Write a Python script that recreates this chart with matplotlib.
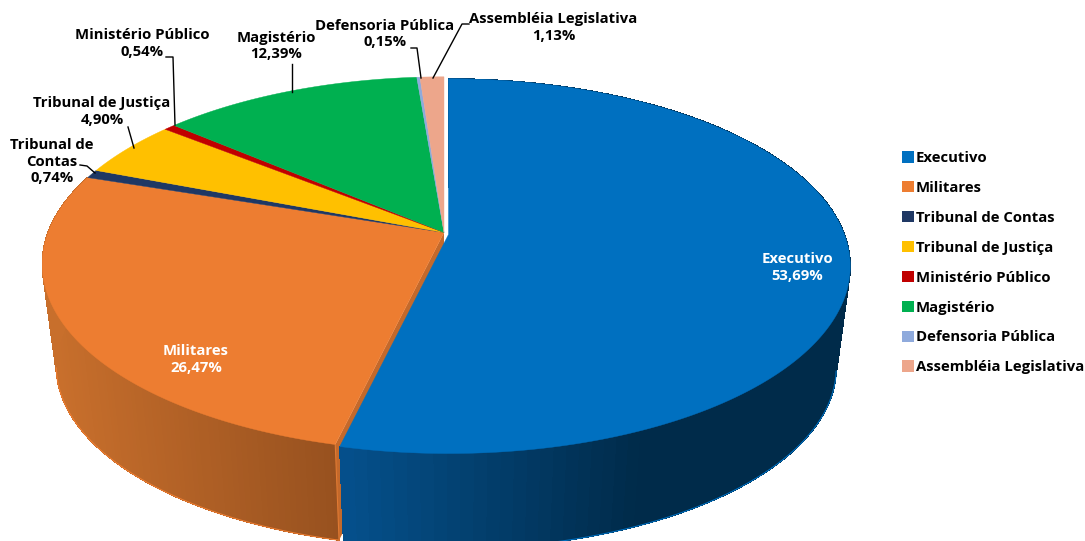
import numpy as np
import matplotlib
matplotlib.use("Agg")
import matplotlib.pyplot as plt
from matplotlib.collections import PolyCollection
from matplotlib.colors import to_rgb
from matplotlib.patches import Patch

categories = ["Executivo", "Militares", "Tribunal de Contas", "Tribunal de Justiça",
              "Ministério Público", "Magistério", "Defensoria Pública", "Assembléia Legislativa"]
values = [53.69, 26.47, 0.74, 4.90, 0.54, 12.39, 0.15, 1.13]
colors = ["#0070C0", "#ED7D31", "#1F3864", "#FFC000", "#C00000", "#00B050", "#8FAADC", "#EDA68B"]
label_names = ["Executivo", "Militares", "Tribunal de\nContas", "Tribunal de Justiça",
               "Ministério Público", "Magistério", "Defensoria Pública", "Assembléia Legislativa"]
label_pos = [(797, 267.5), (196, 359.5), (52, 161.5), (102, 111.5),
             (142, 43.5), (276, 46), (385, 34), (553.5, 27.5)]
leaders = [None, None,
           [(80, 165), (87, 166), (95, 173)],
           [(128, 127), (134, 148)],
           [(166, 57), (173, 57), (175, 125)],
           [(292, 64), (292, 92)],
           [(411, 48), (417, 48), (421, 78)],
           [(469, 24), (462, 24), (433, 78)]]

FONT = "Open Sans"
FS = 10.7
RX, RY, P = 396.0, 182.0, 0.169
K, DROP = 0.965, 102.0
ELL_OFF = 31.0

fig = plt.figure(figsize=(10.85, 5.41), dpi=100)
ax = fig.add_axes([0, 0, 1, 1])
ax.set_xlim(0, 1085)
ax.set_ylim(541, 0)
ax.axis("off")


def rim(theta, cx, cy):
    u, v = np.sin(theta), -np.cos(theta)
    s = 1 / (1 - P * v)
    return cx + RX * u * s, cy + RY * v * s


def lower(x, y, cx, cy):
    ey = cy + ELL_OFF
    return cx + (x - cx) * K, ey + DROP + (y - ey) * K


def mix(a, b, t):
    a, b = np.array(to_rgb(a)), np.array(to_rgb(b))
    return tuple(a + (b - a) * t)


edges = np.concatenate([[0], np.cumsum(values)]) / np.sum(values) * 2 * np.pi
centers = [(448.5, 234.5) if i == 0 else (444.0, 232.5) for i in range(len(values))]
side_style = {
    0: ("#05508C", "#002B4A", 342, 640),
    1: ("#C86F2C", "#97511F", 50, 335),
}

for i in (1, 0):
    cx, cy = centers[i]
    th = np.linspace(edges[i], edges[i + 1], 120)
    x, y = rim(th, cx, cy)
    xb, yb = lower(x, y, cx, cy)
    c0, c1, x0, x1 = side_style[i]
    quads, cols = [], []
    for j in range(len(th) - 1):
        quads.append([(x[j], y[j]), (x[j + 1], y[j + 1]), (xb[j + 1], yb[j + 1]), (xb[j], yb[j])])
        cols.append(mix(c0, c1, np.clip((0.5 * (x[j] + x[j + 1]) - x0) / (x1 - x0), 0, 1)))
    z = 4 if i == 0 else 2
    ax.add_collection(PolyCollection(quads, facecolors=cols, edgecolors=cols, linewidths=0.3,
                                     antialiased=False, zorder=z))
    vis = yb > cy + ELL_OFF + DROP
    ax.plot(xb[vis], yb[vis], color=colors[i], lw=0.8, zorder=z)
    if i == 1:
        tx, ty = rim(edges[1], cx, cy)
        bx, by = lower(tx, ty, cx, cy)
        cbx, cby = lower(cx, cy, cx, cy)
        ax.fill([cx, tx, bx, cbx], [cy, ty, by, cby], color="#C4692B", lw=0, zorder=3)
        ax.plot([tx, bx], [ty, by], color="#E07A33", lw=0.8, zorder=3)

for i in range(len(values)):
    cx, cy = centers[i]
    th = np.linspace(edges[i], edges[i + 1], max(4, int(600 * values[i] / 100)))
    x, y = rim(th, cx, cy)
    ax.fill(np.r_[cx, x], np.r_[cy, y], color=colors[i], lw=0.3, zorder=5 + (i == 0))

for i, name in enumerate(label_names):
    pct = f"{values[i]:.2f}".replace(".", ",") + "%"
    ax.text(*label_pos[i], f"{name}\n{pct}", ha="center", va="center", family=FONT,
            fontweight="bold", fontsize=FS, linespacing=1.22,
            color="white" if i < 2 else "black", zorder=8)
    if leaders[i]:
        xs, ys = zip(*leaders[i])
        ax.plot(xs, ys, color="black", lw=1.0, zorder=7)

handles = [Patch(facecolor=c, edgecolor="none") for c in colors]
fs_px = FS * 100 / 72
ax.legend(handles, categories, loc="upper left", bbox_to_anchor=(902 / 1085, 1 - 151 / 541),
          frameon=False, prop={"family": FONT, "weight": "bold", "size": FS},
          handlelength=12 / fs_px, handleheight=12 / fs_px, handletextpad=2 / fs_px,
          labelspacing=1.07, borderpad=0, borderaxespad=0)

fig.savefig("out.png", dpi=100, facecolor="white")
